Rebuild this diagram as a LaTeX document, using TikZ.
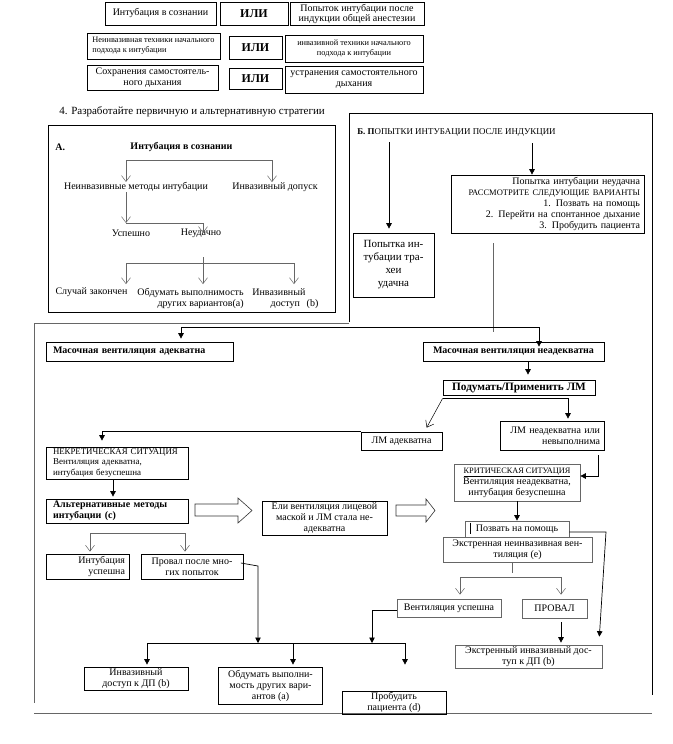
\documentclass[tikz,border=0pt]{standalone}
\usepackage{fontspec}
\setmainfont{Liberation Serif}
\usetikzlibrary{arrows.meta}

\tikzset{wh/.style 2 args={minimum width=#1pt,minimum height=#2pt},
         tw/.style 2 args={text width=#1pt-8pt,minimum height=#2pt},
         ltw/.style 2 args={inner xsep=7pt,text width=#1pt-14pt,minimum height=#2pt,align=left}}

\begin{document}
\begin{tikzpicture}[x=1pt,y=-1pt,line width=0.7pt]
    \tikzstyle{box}=[draw=black,inner xsep=4pt,inner ysep=1pt,align=center,font=\fontsize{10}{11}\selectfont]
    \tikzstyle{gbox}=[box,draw=black!60]
    \tikzstyle{orbox}=[box,line width=0.9pt,font=\fontsize{12}{14}\selectfont\bfseries]
    \tikzstyle{lbl}=[inner sep=0pt,font=\fontsize{10}{11}\selectfont]
    \tikzstyle{arr}=[-{Triangle[length=5.5pt,width=5.5pt]}]
    \tikzstyle{oarr}=[-{Straight Barb[length=6pt,width=9pt]},line width=0.5pt]
    \tikzstyle{garr}=[oarr,draw=black!60]
    \tikzstyle{gline}=[line width=0.6pt,draw=black!60]
    \tikzstyle{frame}=[line width=0.7pt,draw=black!60]
    \tikzstyle{blockarr}=[line width=0.6pt,draw=black!80,fill=white]

    \useasboundingbox[fill=white] (0,0) rectangle (672,744);

    % choice rows
    \node[box,wh={111}{23}] (intSozn) at (160.5,13.5) {Интубация в сознании};
    \node[box,wh={134}{23},font=\fontsize{10}{10}\selectfont] (popInd) at (357,13.5) {Попыток интубации после\\индукции общей анестезии};
    \node[box,wh={133}{26},align=left,font=\fontsize{8.3}{10}\selectfont] (neinvTech) at (153.5,46) {Неинвазивная техники начального\\подхода к интубации};
    \node[box,wh={138}{27},font=\fontsize{8.3}{10}\selectfont] (invTech) at (354,48.5) {инвазивной техники начального\\подхода к интубации};
    \node[box,wh={131}{25}] (sohrDyh) at (152.5,77.5) {Сохранения самостоятель-\\ного дыхания};
    \node[box,wh={138}{27}] (ustrDyh) at (354,79.5) {устранения самостоятельного\\дыхания};
    \foreach \n/\x/\y/\w/\h in {1/254/13.5/68/23, 2/255.5/47.5/53/23, 3/255.5/78.5/53/21}
        \node[orbox,wh={\w}{\h}] (ili-\n) at (\x,\y) {ИЛИ};

    \node[lbl,anchor=west,font=\fontsize{11}{12}\selectfont] (stratHead) at (59,112) {4. Разработайте первичную и альтернативную стратегии};

    % part A
    \draw (48,125) rectangle (335,312);
    \node[lbl,anchor=west,font=\fontsize{10}{11}\selectfont\bfseries] (aHead) at (55,147) {А.};
    \node[lbl,font=\fontsize{10}{11}\selectfont\bfseries] (aTitle) at (181.5,147) {Интубация в сознании};
    \node[lbl] (aNon) at (136,187) {Неинвазивные методы интубации};
    \node[lbl] (aInv) at (275,187) {Инвазивный допуск};
    \node[lbl] (aOk) at (131,233) {Успешно};
    \node[lbl] (aFail) at (201,233) {Неудачно};
    \node[lbl] (aDone) at (91.5,292) {Случай закончен};
    \node[lbl,align=right,anchor=north east] (aOther) at (244,288) {Обдумать выполнимость\\других вариантов(а)};
    \node[lbl,text width=66pt,align=left,anchor=north west] (aInvD) at (252,288) {Инвазивный\\\hspace*{\fill}доступ\ \ (b)};

    \coordinate (aL) at (126,160);
    \coordinate (aR) at (272,160);
    \coordinate (aJ) at (126,223);
    \coordinate (aS) at (203,257);
    \coordinate (aB) at (126,263);
    \coordinate (aE) at (294,263);
    \draw[gline] (aL) -- (aR);
    \draw[garr] (aL) -- (aL |- aNon.north);
    \draw[garr] (aR) -- (aR |- aInv.north);
    \draw[garr] (aL |- aNon.south) -- (aJ);
    \draw[garr] (aJ) -| ([xshift=2pt]aFail.center);
    \draw[gline] (aB) -- (aE);
    \foreach \c in {aB,aS,aE}
        \draw[garr,shorten >=3pt] (\c) -- (\c |- aDone.north);

    % part B
    \draw (349,322) -- (349,113) -- (652,113) -- (652,695);
    \node[lbl,anchor=west,font=\fontsize{8.9}{11}\selectfont] (bHead) at (357,132) {\textbf{Б. П}ОПЫТКИ ИНТУБАЦИИ ПОСЛЕ ИНДУКЦИИ};
    \node[box,wh={81}{64},font=\fontsize{11}{13}\selectfont] (bSucc) at (393.5,265) {Попытка ин-\\тубации тра-\\хеи\\удачна};
    \node[box,tw={193}{58},align=right,font=\fontsize{10}{10.8}\selectfont] (bFail) at (547.5,204) {Попытка интубации неудачна\\{\fontsize{8.5}{10.8}\selectfont РАССМОТРИТЕ СЛЕДУЮЩИЕ ВАРИАНТЫ}\\1. Позвать на помощь\\2. Перейти на спонтанное дыхание\\3. Пробудить пациента};
    \coordinate (bL) at (389,142);
    \coordinate (bR) at (532,143);
    \coordinate (bG1) at (493,243);
    \coordinate (bG2) at (493,332);
    \draw[arr,shorten >=4pt] (bL) -- (bL |- bSucc.north);
    \draw[arr] (bR) -- (bR |- bFail.north);
    \draw[gline] (bG1) -- (bG2);

    % lower part
    \draw[frame] (349,323) -- (34,323) -- (34,703);
    \draw[frame] (34,713) -- (652,713);
    \node[box,ltw={187}{19},font=\fontsize{10}{11}\selectfont\bfseries] (mAd) at (139.5,351.5) {Масочная вентиляция адекватна};
    \node[box,wh={181}{19},font=\fontsize{10}{11}\selectfont\bfseries] (mNad) at (513.5,351.5) {Масочная вентиляция неадекватна};
    \node[box,wh={152}{15},font=\fontsize{11.3}{13}\selectfont\bfseries] (applyLM) at (519,387.5) {Подумать/Применить ЛМ};
    \node[box,wh={81}{18}] (lmAd) at (401.5,441) {ЛМ адекватна};
    \node[box,tw={104}{29},align=right] (lmNad) at (552,435.5) {ЛМ неадекватна или\\невыполнима};
    \node[box,ltw={142}{32},font=\fontsize{9}{10.8}\selectfont] (nekr) at (117,463) {{\fontsize{8.8}{10.8}\selectfont НЕКРЕТИЧЕСКАЯ СИТУАЦИЯ}\\Вентиляция адекватна,\\интубация безуспешна};
    \node[box,ltw={142}{24},font=\fontsize{10}{11}\selectfont\bfseries] (altMeth) at (117,511) {Альтернативные методы\\интубации (c)};
    \node[box,wh={125}{34}] (eliVent) at (324.5,518) {Ели вентиляция лицевой\\маской и ЛМ стала не-\\адекватна};
    \node[gbox,wh={126}{37}] (krit) at (517,482.5) {{\fontsize{8.3}{11}\selectfont\underline{КРИТИЧЕСКАЯ СИТУАЦИЯ}}\\Вентиляция неадекватна,\\интубация безуспешна};
    \node[gbox,wh={104}{16}] (help) at (517,529) {Позвать на помощь};
    \node[gbox,wh={149}{25}] (extNi) at (517.5,549.5) {Экстренная неинвазивная вен-\\тиляция (e)};
    \node[gbox,wh={104}{18}] (vUsp) at (449,608) {Вентиляция успешна};
    \node[gbox,wh={65}{19}] (fail) at (554.5,608.5) {ПРОВАЛ};
    \node[gbox,wh={147}{23}] (extInv) at (528.5,656.5) {Экстренный инвазивный дос-\\туп к ДП (b)};
    \node[box,tw={83}{25},align=right] (intUsp) at (87.5,566.5) {Интубация\\успешна};
    \node[box,wh={102}{25}] (provMany) at (192,566.5) {Провал после мно-\\гих попыток};
    \node[box,wh={104}{23}] (invD) at (136,678.5) {Инвазивный\\доступ к ДП (b)};
    \node[box,wh={104}{37}] (obd) at (270.5,685.5) {Обдумать выполни-\\мость других вари-\\антов (a)};
    \node[box,wh={104}{23}] (probud) at (394,702.5) {Пробудить\\пациента (d)};

    \coordinate (mL) at (181,327);
    \coordinate (mR) at (539,327);
    \draw (mL) -- (mR);
    \draw[arr,shorten >=3pt] (mL) -- (mL |- mAd.north);
    \draw[arr] (mR) -- ([yshift=-5pt]mR |- mNad.north);
    \draw[arr,shorten >=5pt] ([xshift=14.5pt]mNad.south) -- ([xshift=14.5pt]mNad.south |- applyLM.north);
    \draw[arr,shorten >=2pt] ([yshift=-3pt]applyLM.south west) -| ([xshift=16pt]lmNad.north);
    \draw[oarr] ([yshift=-3pt]applyLM.south west) -- ([xshift=66pt,yshift=4pt]lmAd.north west);
    \draw[arr,shorten >=6pt] (lmAd.north west) -| ([xshift=-15pt]nekr.north);
    \draw[arr] ([xshift=46pt,yshift=-5pt]lmNad.south) |- ([yshift=6.5pt]krit.east);
    \draw[arr,shorten >=2pt] ([xshift=-4pt]nekr.south) -- ([xshift=-4pt]nekr.south |- altMeth.north);
    \draw[arr] (krit.south) -- (krit.south |- help.north);
    \draw ([xshift=6pt,yshift=-2pt]help.north west) -- ([xshift=6pt,yshift=3pt]help.south west);
    \coordinate (helpBend) at (606,532);
    \draw[arr] ([yshift=-3pt]help.east) -- (helpBend) -- ([xshift=-3pt,yshift=8pt]extInv.north east);

    \coordinate (eS) at (512,573);
    \coordinate (eL) at (460,577);
    \coordinate (eR) at (561,577);
    \draw[gline] ([xshift=-5.5pt]extNi.south) -- (eS);
    \draw[gline] (eL) -- (eR);
    \draw[garr,shorten >=4pt] (eL) -- (eL |- vUsp.north);
    \draw[garr,shorten >=4pt] (eR) -- (eR |- fail.north);
    \draw[arr,shorten >=2pt] ([xshift=6.5pt,yshift=-4pt]fail.south) -- ([xshift=6.5pt]fail.south |- extInv.north);

    \coordinate (cL) at (90,533);
    \coordinate (cR) at (185,533);
    \draw[gline] (cL) -- (cR);
    \draw[garr,shorten >=2pt] (cL) -- (cL |- intUsp.north);
    \draw[garr,shorten >=2pt] (cR) -- (cR |- provMany.north);

    \coordinate (pBend) at (258,566);
    \coordinate (vDrop) at (372,643);
    \coordinate (sL) at (147,643);
    \coordinate (sM) at (293,643);
    \coordinate (sR) at (405,643);
    \draw[arr] ([xshift=-2.5pt,yshift=3.5pt]provMany.east) -- (pBend) -- (pBend |- sL);
    \draw[arr] ([yshift=-2pt]vUsp.west) -| (vDrop);
    \draw (sL) -- (sR);
    \foreach \c in {sL,sM,sR}
        \draw[arr,shorten >=2pt] (\c) -- (\c |- invD.north);

    % block arrows
    \draw[blockarr] (195,504) -- (238,504) -- (238,498) -- (252,510.5) -- (238,523) -- (238,516) -- (195,516) -- cycle;
    \draw[blockarr] (396,505) -- (426,505) -- (426,499) -- (435,510.5) -- (426,522) -- (426,516) -- (396,516) -- cycle;
\end{tikzpicture}
\end{document}
